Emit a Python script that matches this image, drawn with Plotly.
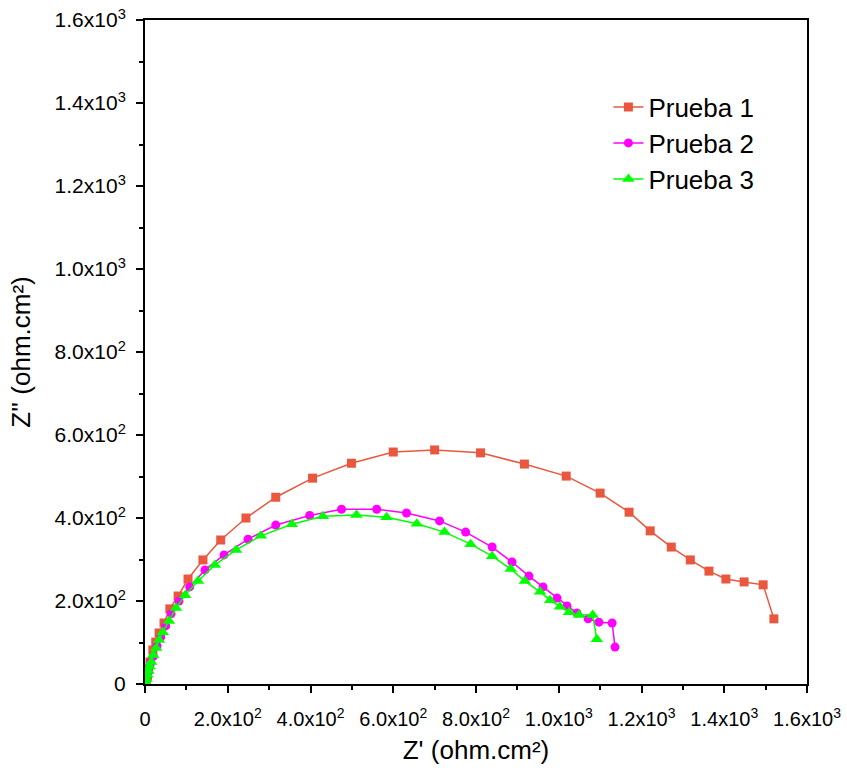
import plotly.graph_objects as go

# Prueba 1
p1_x = [3, 6, 9, 12, 19, 26, 34, 46, 60, 80, 104, 140, 183, 244, 316, 405, 499, 600, 700, 811,
        917, 1018, 1100, 1170, 1221, 1272, 1318, 1363, 1404, 1448, 1494, 1520]
p1_y = [8, 20, 35, 53, 82, 101, 123, 147, 181, 212, 253, 299, 347, 400, 450, 496, 532, 559, 564, 557,
        530, 501, 460, 414, 369, 330, 299, 272, 253, 246, 239, 157]

# Prueba 2
p2_x = [2, 4, 7, 10, 14, 20, 29, 38, 50, 63, 82, 108, 145, 191, 249, 316, 398, 475, 560, 632,
        712, 775, 839, 887, 928, 962, 996, 1020, 1044, 1071, 1097, 1129, 1136]
p2_y = [5, 15, 28, 40, 53, 67, 92, 113, 140, 169, 200, 234, 275, 311, 349, 383, 406, 421, 421, 412,
        393, 366, 330, 294, 260, 234, 207, 188, 171, 157, 149, 147, 89]

# Prueba 3
p3_x = [2, 4, 6, 8, 11, 15, 20, 27, 34, 43, 58, 75, 97, 128, 169, 220, 280, 355, 430, 511,
        584, 657, 724, 787, 839, 884, 918, 955, 979, 1003, 1025, 1049, 1082, 1092]
p3_y = [3, 12, 22, 32, 42, 53, 70, 87, 106, 125, 152, 183, 214, 248, 287, 323, 357, 385, 404, 407,
        402, 386, 366, 337, 308, 277, 248, 222, 202, 186, 173, 166, 166, 108]

tick_vals = [0, 200, 400, 600, 800, 1000, 1200, 1400, 1600]
tick_text = ["0", "2.0x10<sup>2</sup>", "4.0x10<sup>2</sup>", "6.0x10<sup>2</sup>",
             "8.0x10<sup>2</sup>", "1.0x10<sup>3</sup>", "1.2x10<sup>3</sup>",
             "1.4x10<sup>3</sup>", "1.6x10<sup>3</sup>"]

FONT = "Liberation Sans, Arial, sans-serif"

fig = go.Figure()
fig.add_trace(go.Scatter(x=p1_x, y=p1_y, mode="lines+markers", name="Prueba 1",
                         line=dict(color="#E9573F", width=1.5),
                         marker=dict(symbol="square", size=9, color="#E9573F"),
                         legend="legend", showlegend=True))
fig.add_trace(go.Scatter(x=p2_x, y=p2_y, mode="lines+markers", name="Prueba 2",
                         line=dict(color="#FF00FF", width=1.5),
                         marker=dict(symbol="circle", size=9, color="#FF00FF"),
                         legend="legend2", showlegend=True))
fig.add_trace(go.Scatter(x=p3_x, y=p3_y, mode="lines+markers", name="Prueba 3",
                         line=dict(color="#00FF00", width=1.5),
                         marker=dict(symbol="triangle-up", size=11, color="#00FF00"),
                         legend="legend3", showlegend=True))

axis_common = dict(
    range=[0, 1600], tickvals=tick_vals, ticktext=tick_text, automargin=False,
    showgrid=False, zeroline=False, showline=True, linecolor="black", linewidth=2,
    mirror=True, ticks="outside", ticklen=7, tickwidth=2, tickcolor="black",
    minor=dict(ticks="outside", ticklen=4, tickwidth=2, tickcolor="black", dtick=100, tick0=0),
)

fig.update_xaxes(**axis_common, ticklabelstandoff=9,
                 tickfont=dict(family=FONT, size=20, color="black"),
                 title=dict(text="Z' (ohm.cm²)", font=dict(family=FONT, size=26, color="black"), standoff=12))
fig.update_yaxes(**axis_common, ticklabelstandoff=6,
                 tickfont=dict(family=FONT, size=21, color="black"),
                 title=dict(text="Z'' (ohm.cm²)", font=dict(family=FONT, size=26, color="black"), standoff=16))

def leg(y):
    return dict(x=0.70, y=y, xanchor="left", yanchor="middle", bgcolor="rgba(0,0,0,0)",
                font=dict(family=FONT, size=26, color="black"))

fig.update_layout(
    width=847, height=776,
    margin=dict(l=145, r=40, t=20, b=92),
    plot_bgcolor="white", paper_bgcolor="white",
    showlegend=True,
    legend=leg((684 - 107) / 664),
    legend2=leg((684 - 143) / 664),
    legend3=leg((684 - 179) / 664),
)

fig.write_html("out.html")
